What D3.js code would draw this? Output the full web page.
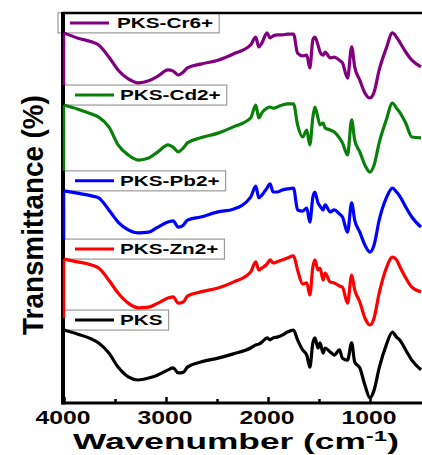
<!DOCTYPE html>
<html>
<head>
<meta charset="utf-8">
<script src="https://cdn.jsdelivr.net/npm/d3@7"></script>
<style>
  body { margin: 0; background: #fff; }
  text { font-family: "Liberation Sans", Arial, sans-serif; font-weight: bold; }
</style>
</head>
<body>
<svg id="chart"></svg>
<script>
// Wavenumber grid (cm-1)
const wavenumbers = [4000, 3870, 3730, 3660, 3560, 3470, 3370, 3270, 3170, 3080,
  2980, 2930, 2880, 2830, 2790, 2660, 2490, 2340, 2170, 2120,
  2090, 2060, 2010, 1980, 1950, 1910, 1860, 1810, 1750, 1710,
  1660, 1620, 1590, 1560, 1540, 1510, 1490, 1460, 1440, 1390,
  1350, 1300, 1270, 1220, 1180, 1150, 1100, 1050, 1000, 960,
  910, 840, 780, 740, 710, 650, 590, 500];

// Transmittance (a.u.) for each sample, before stacking
const pks = [18.7, 17.7, 16.4, 15.4, 12.8, 9.2, 6.7, 5.9, 6.4, 7.2,
  8.5, 9.0, 7.7, 7.9, 9.2, 10.5, 11.5, 12.6, 14.1, 14.9,
  15.1, 15.6, 16.7, 16.2, 16.7, 16.9, 17.4, 18.2, 18.7, 16.2,
  13.6, 12.3, 9.2, 15.4, 16.7, 14.1, 15.4, 12.8, 14.1, 13.1,
  12.3, 13.6, 11.5, 11.0, 15.4, 10.5, 9.0, 4.6, 1.3, 3.3,
  9.0, 14.9, 18.2, 16.9, 16.2, 13.6, 11.0, 8.5];
const zn = [18.9, 18.2, 17.4, 16.6, 13.5, 10.2, 7.6, 6.4, 6.6, 7.6,
  8.9, 9.2, 7.6, 7.9, 9.4, 10.5, 11.5, 13.0, 15.6, 18.2,
  16.1, 16.6, 17.6, 18.7, 17.9, 18.2, 18.7, 19.2, 19.7, 16.1,
  12.5, 12.8, 9.7, 16.9, 18.7, 16.1, 16.6, 13.5, 15.3, 13.0,
  12.8, 12.0, 11.7, 7.6, 14.8, 11.0, 7.9, 3.8, 2.0, 3.8,
  10.2, 16.6, 19.4, 18.7, 17.1, 14.1, 11.7, 10.5];
const pb = [18.4, 17.8, 17.1, 16.6, 13.5, 10.4, 8.4, 7.6, 7.8, 9.1,
  10.4, 10.7, 9.1, 9.6, 10.9, 11.7, 13.0, 13.7, 16.8, 19.6,
  16.6, 17.3, 19.1, 20.2, 18.1, 18.1, 18.6, 18.9, 19.1, 13.5,
  13.2, 14.0, 10.4, 16.8, 18.1, 15.3, 14.5, 13.5, 14.8, 13.0,
  13.5, 12.5, 11.7, 7.8, 15.3, 10.9, 7.8, 4.5, 2.7, 4.5,
  10.9, 16.6, 19.1, 18.1, 17.1, 14.3, 11.7, 9.1];
const cd = [22.4, 21.4, 20.1, 19.3, 16.8, 12.2, 9.6, 8.3, 8.8, 10.4,
  12.2, 11.6, 10.4, 11.4, 12.7, 14.0, 15.2, 16.8, 19.1, 22.4,
  19.1, 20.4, 21.6, 21.9, 21.6, 21.9, 22.4, 22.7, 22.7, 17.3,
  14.2, 16.0, 12.2, 19.3, 21.9, 19.1, 17.3, 17.8, 16.5, 16.0,
  15.5, 14.0, 12.7, 9.6, 18.6, 13.4, 10.4, 7.0, 5.2, 7.0,
  12.7, 18.6, 22.9, 21.6, 20.6, 17.8, 14.2, 14.0];
const cr = [22.9, 21.6, 20.6, 19.8, 16.7, 13.4, 11.1, 10.1, 10.6, 11.8,
  13.4, 13.1, 12.1, 12.9, 13.9, 14.9, 15.9, 17.5, 19.8, 21.8,
  19.3, 20.3, 22.9, 21.6, 22.1, 22.4, 22.4, 22.6, 22.6, 17.7,
  17.0, 17.2, 13.9, 21.1, 21.8, 19.8, 18.0, 17.2, 18.0, 16.5,
  16.7, 15.9, 15.2, 11.3, 19.3, 14.2, 10.8, 7.5, 6.2, 7.7,
  13.4, 19.0, 22.9, 21.8, 20.6, 18.0, 15.9, 14.2];

const seriesNames = ["PKS", "PKS-Zn2+", "PKS-Pb2+", "PKS-Cd2+", "PKS-Cr6+"];
const seriesColors = ["#000000", "#ff0000", "#0000ff", "#0a800a", "#800080"];
const seriesOffsets = [0, 18, 36, 54, 72];
const seriesValues = [pks, zn, pb, cd, cr];

const xTicks = [4000, 3000, 2000, 1000];
const xMinorTicks = [3500, 2500, 1500];

const width = 422, height = 455;

const svg = d3.select("#chart")
    .attr("width", width)
    .attr("height", height);

const x = d3.scaleLinear().domain([4000, 500]).range([64, 421]);
const y = d3.scaleLinear().domain([0, 100]).range([403, 13]);

// stretch a text horizontally so it fills a given width (the figure is wide-stretched)
function fit(sel, tx, ty, target, rotate, ky) {
    const w = sel.node().getComputedTextLength();
    const k = target / w;
    sel.attr("transform", `translate(${tx},${ty})` + (rotate ? ` rotate(${rotate})` : "") + ` scale(${k},${ky || 1})`);
}

const series = seriesNames.map((name, i) => ({
    name: name,
    color: seriesColors[i],
    offset: seriesOffsets[i],
    points: wavenumbers.map((w, j) => ({ w: w, t: seriesValues[i][j] + seriesOffsets[i] }))
}));

// legend boxes (drawn first so the axis sits on top)
const legendScale = 1.48;
series.forEach((s, i) => {
    const yb = y(s.points[0].t);
    const g = svg.append("g");
    const boxX = i === 4 ? 58 : 63;
    const txt = g.append("text")
        .attr("font-size", 14)
        .text(s.name);
    const tw = txt.node().getComputedTextLength() * legendScale;
    const textX = boxX + (i === 4 ? 59 : 57);
    txt.attr("transform", `translate(${textX},${yb - 5}) scale(${legendScale},1)`);
    g.insert("rect", "text")
        .attr("x", boxX)
        .attr("y", yb - 20)
        .attr("width", textX + tw + 6 - boxX)
        .attr("height", 20)
        .attr("fill", "#fff")
        .attr("stroke", "#9a9a9a")
        .attr("stroke-width", 1.2);
    g.append("line")
        .attr("x1", boxX + 12).attr("x2", boxX + 51)
        .attr("y1", yb - 10).attr("y2", yb - 10)
        .attr("stroke", s.color)
        .attr("stroke-width", 3);
});

// frame: top border, left axis, bottom axis
svg.append("line")
    .attr("x1", 62).attr("x2", width)
    .attr("y1", y(100)).attr("y2", y(100))
    .attr("stroke", "#000").attr("stroke-width", 2.5);

svg.append("line")
    .attr("x1", 63).attr("x2", 63)
    .attr("y1", y(100) - 1).attr("y2", y(0) + 1.5)
    .attr("stroke", "#000").attr("stroke-width", 4);

// coloured parts of the left axis, one per stacked curve
series.forEach((s, i) => {
    if (i === 0) return;
    const below = series[i - 1];
    svg.append("line")
        .attr("x1", 64).attr("x2", 64)
        .attr("y1", y(s.points[0].t))
        .attr("y2", y(below.points[0].t) - 20 + (i === 1 ? 8 : 0))
        .attr("stroke", s.color)
        .attr("stroke-width", 2.5);
});

const xAxis = svg.append("g")
    .attr("transform", `translate(0,${y(0)})`)
    .call(d3.axisBottom(x).tickValues(xTicks).tickSize(-6).tickFormat(""));
xAxis.select(".domain").attr("stroke-width", 3).attr("d", `M62,0H${width}`);
xAxis.selectAll(".tick line").attr("stroke-width", 2.5);

svg.append("g")
    .attr("transform", `translate(0,${y(0)})`)
    .call(d3.axisBottom(x).tickValues(xMinorTicks).tickSize(-4).tickFormat(""))
    .call(g => g.select(".domain").remove())
    .selectAll(".tick line").attr("stroke-width", 2.5);

xTicks.forEach(t => {
    const lbl = svg.append("text")
        .attr("font-size", 18)
        .attr("text-anchor", "middle")
        .text(t);
    fit(lbl, x(t) - 1, 424, 55);
});

// curves
const line = d3.line()
    .x(d => x(d.w))
    .y(d => y(d.t))
    .curve(d3.curveMonotoneX);

svg.selectAll(".spectrum")
    .data(series)
    .enter()
    .append("path")
    .attr("class", "spectrum")
    .attr("d", d => line(d.points))
    .attr("fill", "none")
    .attr("stroke", d => d.color)
    .attr("stroke-width", 3.2)
    .attr("stroke-linejoin", "round");

// axis titles
const xTitle = svg.append("text")
    .attr("font-size", 22)
    .attr("text-anchor", "middle");
xTitle.append("tspan").text("Wavenumber (cm");
xTitle.append("tspan").attr("font-size", 15).attr("dy", -8).text("-1");
xTitle.append("tspan").attr("dy", 8).text(")");
fit(xTitle, 236, 449, 326);

const yTitle = svg.append("text")
    .attr("font-size", 26)
    .attr("text-anchor", "middle")
    .text("Transmittance (%)");
fit(yTitle, 43, 215, 240, -90, 1.15);
</script>
</body>
</html>
